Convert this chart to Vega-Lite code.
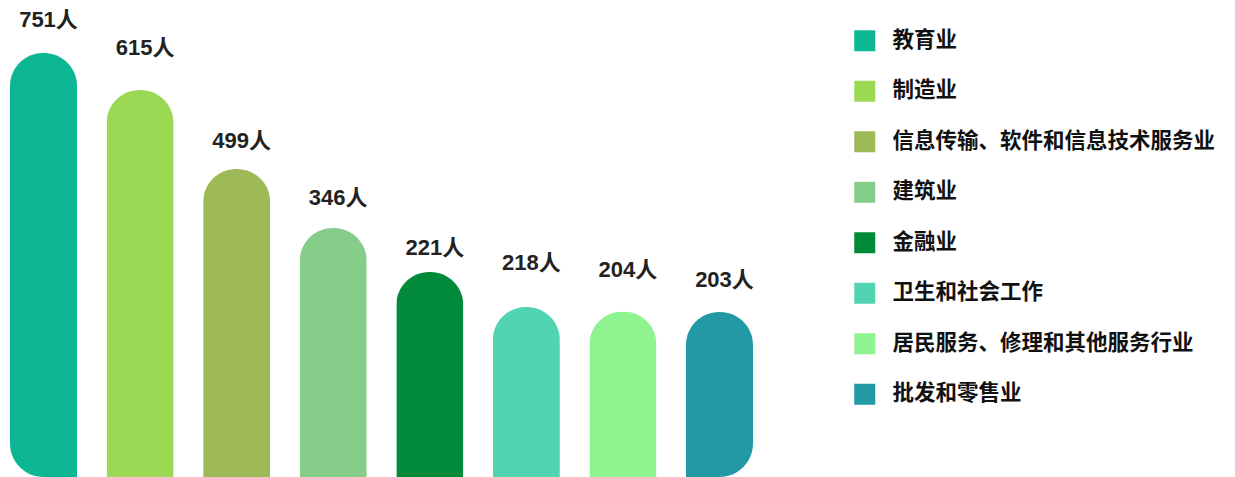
{
  "$schema": "https://vega.github.io/schema/vega-lite/v6.json",
  "width": 1235,
  "height": 477,
  "autosize": "none",
  "padding": 0,
  "background": "white",
  "config": {"view": {"stroke": null}},
  "data": {
    "values": [
      {"category": "教育业", "value": 751, "label": "751人"},
      {"category": "制造业", "value": 615, "label": "615人"},
      {"category": "信息传输、软件和信息技术服务业", "value": 499, "label": "499人"},
      {"category": "建筑业", "value": 346, "label": "346人"},
      {"category": "金融业", "value": 221, "label": "221人"},
      {"category": "卫生和社会工作", "value": 218, "label": "218人"},
      {"category": "居民服务、修理和其他服务行业", "value": 204, "label": "204人"},
      {"category": "批发和零售业", "value": 203, "label": "203人"}
    ]
  },
  "encoding": {
    "x": {
      "field": "category",
      "type": "nominal",
      "sort": null,
      "axis": null,
      "scale": {
        "domain": ["教育业", "制造业", "信息传输、软件和信息技术服务业", "建筑业", "金融业", "卫生和社会工作", "居民服务、修理和其他服务行业", "批发和零售业"],
        "range": [10, 753], "paddingInner": 0.306, "paddingOuter": 0}
    },
    "color": {
      "field": "category",
      "type": "nominal",
      "scale": {
        "domain": ["教育业", "制造业", "信息传输、软件和信息技术服务业", "建筑业", "金融业", "卫生和社会工作", "居民服务、修理和其他服务行业", "批发和零售业"],
        "range": ["#0DB693", "#9BD954", "#9DBA57", "#87CD8A", "#008A3A", "#51D4B2", "#8FF38F", "#2399A6"]
      },
      "legend": {
        "orient": "none",
        "legendX": 854,
        "legendY": 30,
        "title": null,
        "symbolType": "square",
        "symbolSize": 441,
        "symbolStrokeWidth": 0,
        "symbolOpacity": 1,
        "labelFont": "Noto Sans CJK SC",
        "labelFontWeight": "bold",
        "labelFontSize": 21.5,
        "labelColor": "#111111",
        "labelOffset": 17,
        "labelLimit": 400,
        "rowPadding": 27.5
      }
    }
  },
  "layer": [
    {
      "transform": [{"filter": {"field": "category", "oneOf": ["制造业", "信息传输、软件和信息技术服务业", "建筑业", "金融业", "卫生和社会工作", "居民服务、修理和其他服务行业"]}}],
      "mark": {"type": "bar", "cornerRadiusTopLeft": 33, "cornerRadiusTopRight": 33},
      "encoding": {
        "y": {"field": "value", "type": "quantitative", "axis": null,
          "scale": {"domain": [0, 203, 204, 218, 221, 346, 499, 615, 751], "range": [477, 312, 311.5, 307, 272, 228, 169, 90, 53], "zero": false, "nice": false}}
      }
    },
    {
      "transform": [{"filter": {"field": "category", "equal": "教育业"}}],
      "mark": {"type": "bar", "cornerRadiusTopLeft": 33, "cornerRadiusTopRight": 33, "cornerRadiusBottomLeft": 36},
      "encoding": {
        "y": {"field": "value", "type": "quantitative", "axis": null,
          "scale": {"domain": [0, 203, 204, 218, 221, 346, 499, 615, 751], "range": [477, 312, 311.5, 307, 272, 228, 169, 90, 53], "zero": false, "nice": false}}
      }
    },
    {
      "transform": [{"filter": {"field": "category", "equal": "批发和零售业"}}],
      "mark": {"type": "bar", "cornerRadiusTopLeft": 33, "cornerRadiusTopRight": 33, "cornerRadiusBottomRight": 36},
      "encoding": {
        "y": {"field": "value", "type": "quantitative", "axis": null,
          "scale": {"domain": [0, 203, 204, 218, 221, 346, 499, 615, 751], "range": [477, 312, 311.5, 307, 272, 228, 169, 90, 53], "zero": false, "nice": false}}
      }
    },
    {
      "mark": {"type": "text", "font": "Liberation Sans, Noto Sans CJK SC", "fontSize": 22, "fontWeight": "bold", "color": "#222222", "baseline": "middle", "align": "center", "dx": 5},
      "encoding": {
        "y": {"field": "value", "type": "quantitative", "axis": null,
          "scale": {"domain": [203, 204, 218, 221, 346, 499, 615, 751], "range": [280, 270, 262.5, 247.5, 197.5, 141, 47.5, 20], "zero": false, "nice": false}},
        "text": {"field": "label", "type": "nominal"},
        "color": {"value": "#222222"}
      }
    }
  ],
  "resolve": {"scale": {"y": "independent"}}
}
